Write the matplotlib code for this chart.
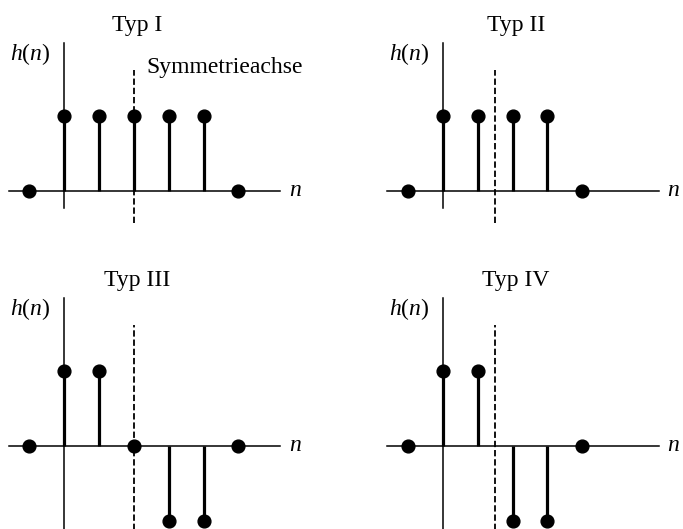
import matplotlib.pyplot as plt

plt.rcParams['font.family'] = 'Liberation Serif'
plt.rcParams['mathtext.fontset'] = 'custom'
plt.rcParams['mathtext.rm'] = 'Liberation Serif'
plt.rcParams['mathtext.it'] = 'Liberation Serif:italic'

# Data: the four linear-phase FIR filter types
titles = ['Typ I', 'Typ II', 'Typ III', 'Typ IV']
n_typ1 = [-1, 0, 1, 2, 3, 4, 5]
h_typ1 = [0, 1, 1, 1, 1, 1, 0]
n_typ2 = [-1, 0, 1, 2, 3, 4]
h_typ2 = [0, 1, 1, 1, 1, 0]
n_typ3 = [-1, 0, 1, 2, 3, 4, 5]
h_typ3 = [0, 1, 1, 0, -1, -1, 0]
n_typ4 = [-1, 0, 1, 2, 3, 4]
h_typ4 = [0, 1, 1, -1, -1, 0]
sym_axis = [2, 1.5, 2, 1.5]

# Layout (pixels)
FIG_W, FIG_H = 683, 529
UNIT_X, UNIT_Y = 34.8, 75.0
XLIM = (-1.9, 7.5)
YLIM = (-1.2, 2.6)
origins = [(64.3, 191), (443, 191), (64.3, 446), (443, 446)]
FS = 17


def axes_rect(ox, oy):
    left = ox + XLIM[0] * UNIT_X
    width = (XLIM[1] - XLIM[0]) * UNIT_X
    top = oy - YLIM[1] * UNIT_Y
    height = (YLIM[1] - YLIM[0]) * UNIT_Y
    return [left / FIG_W, 1 - (top + height) / FIG_H, width / FIG_W, height / FIG_H]


def draw_panel(fig, origin, n, h, title, axis_pos, bottom_row, label_sym=False):
    ax = fig.add_axes(axes_rect(*origin))
    ax.set_xlim(*XLIM)
    ax.set_ylim(*YLIM)
    ax.axis('off')

    # coordinate axes
    ax.plot([-1.6, 6.2], [0, 0], color='k', lw=1.1, zorder=1)
    vbottom = YLIM[0] if bottom_row else -0.23
    ax.plot([0, 0], [vbottom, 1.97], color='k', lw=1.1, zorder=1)

    # symmetry axis
    dbottom = YLIM[0] if bottom_row else -0.43
    ax.plot([axis_pos, axis_pos], [dbottom, 1.61], color='k', lw=1.3,
            linestyle=(0, (3.5, 1.6)), zorder=2)

    markers, stems, base = ax.stem(n, h, linefmt='k-', markerfmt='ko', basefmt=' ')
    stems.set_linewidth(2.3)
    stems.set_zorder(3)
    markers.set_markersize(9.2)
    markers.set_zorder(4)

    ax.text(2.1, 2.13, title, fontsize=FS, ha='center', va='baseline')
    ax.text(-0.4, 1.82, '$h(n)$', fontsize=FS, ha='right', va='center')
    ax.text(6.45, -0.07, '$n$', fontsize=FS, ha='left', va='baseline')
    if label_sym:
        ax.text(2.37, 1.58, 'Symmetrieachse', fontsize=FS, ha='left', va='baseline')
    return ax


fig = plt.figure(figsize=(FIG_W / 100, FIG_H / 100), dpi=100)
draw_panel(fig, origins[0], n_typ1, h_typ1, titles[0], sym_axis[0], False, label_sym=True)
draw_panel(fig, origins[1], n_typ2, h_typ2, titles[1], sym_axis[1], False)
draw_panel(fig, origins[2], n_typ3, h_typ3, titles[2], sym_axis[2], True)
draw_panel(fig, origins[3], n_typ4, h_typ4, titles[3], sym_axis[3], True)

fig.savefig('out.png', dpi=100)
